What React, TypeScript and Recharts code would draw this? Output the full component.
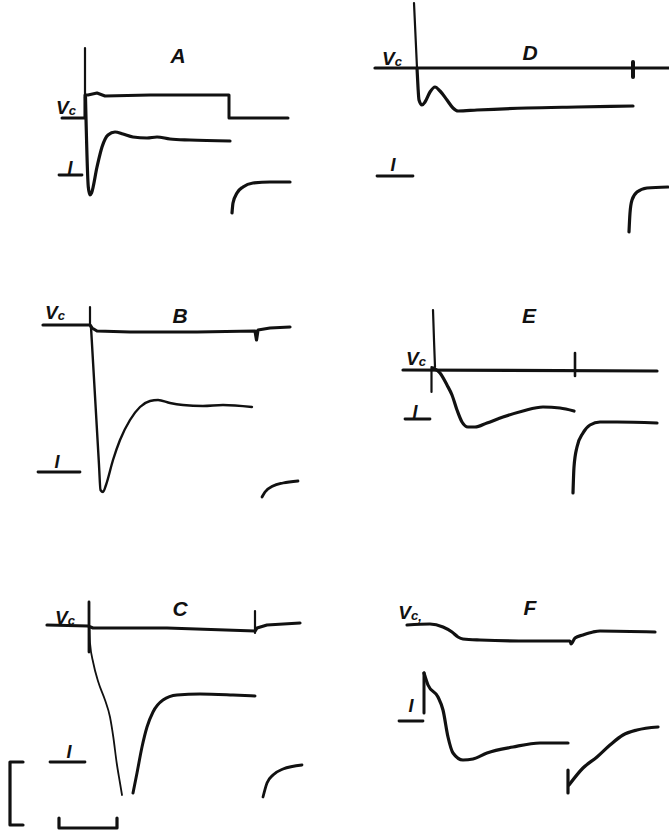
import { Line, LineChart, ReferenceDot, XAxis, YAxis } from "recharts";

type Pt = { t: number; v: number };
const p = (t: number, v: number): Pt => ({ t, v });

// 10 px per unit on both axes (t in ms from step onset, v in trace units)
const PX = 10;
const INK = "#111";
const FONT = '"Liberation Sans", Arial, sans-serif';

// ---- panel A
const aArtifact = [p(0, 7.0), p(0, 0)];
const aVc = [p(-2.3, 0), p(0, 0), p(0, 2.3), p(0.3, 2.3), p(1.2, 2.5), p(2.0, 2.2), p(6.5, 2.3), p(14.4, 2.3), p(14.4, 0), p(20.3, 0)];
const aI = [p(0.05, 2.1), p(0.33, -6.9), p(0.5, -7.7), p(0.65, -7.5), p(1.2, -4.9), p(1.7, -2.9), p(2.3, -1.7), p(3.0, -1.4), p(3.8, -1.6), p(4.8, -1.9), p(6.2, -2.0), p(7.2, -1.9), p(8.5, -2.1), p(10.5, -2.2), p(14.5, -2.3)];
const aTail = [p(14.7, -9.5), p(14.8, -8.5), p(15.2, -7.5), p(15.8, -6.9), p(16.8, -6.5), p(18.5, -6.4), p(20.5, -6.4)];
const aZero = [p(-2.6, -5.7), p(-0.3, -5.7)];

// ---- panel B
const bArtifact = [p(0, 1.8), p(0, 0)];
const bVc = [p(-4.7, 0), p(0, 0), p(0.2, -0.3), p(0.7, -0.6), p(4.0, -0.7), p(10.7, -0.7), p(16.5, -0.6), p(16.65, -1.5), p(16.8, -0.5), p(18.0, -0.3), p(20.0, -0.2)];
const bI = [p(0.1, -0.2), p(0.9, -14.0), p(1.05, -16.5), p(1.3, -16.7), p(1.6, -16.0), p(2.3, -13.5), p(3.0, -11.5), p(4.0, -9.5), p(5.0, -8.2), p(6.0, -7.6), p(6.8, -7.5), p(8.0, -7.8), p(9.3, -8.0), p(11.3, -8.1), p(13.3, -8.0), p(16.2, -8.2)];
const bTail = [p(17.2, -17.2), p(17.5, -16.7), p(18.3, -16.1), p(19.3, -15.8), p(20.8, -15.6)];
const bZero = [p(-5.2, -14.7), p(-1.0, -14.7)];

// ---- panel C
const cArtifact = [p(-0.1, 2.3), p(-0.1, -2.7)];
const cVc = [p(-4.3, 0), p(-0.2, -0.1), p(0.3, -0.3), p(7.7, -0.3), p(16.5, -0.6), p(16.7, -0.3), p(17.7, 0), p(21.0, 0.2)];
const cTick = [p(16.5, 1.4), p(16.5, -0.8)];
const cIDown = [p(-0.05, -0.3), p(0.0, -1.8), p(0.33, -3.8), p(0.83, -5.7), p(1.5, -7.5), p(2.0, -9.2), p(2.33, -11.2), p(2.67, -13.8), p(3.0, -15.8), p(3.2, -17.0)];
const cIUp = [p(4.3, -16.8), p(4.7, -14.8), p(5.2, -12.2), p(5.7, -10.2), p(6.3, -8.7), p(7.3, -7.5), p(8.7, -7.0), p(11.0, -6.9), p(14.3, -7.0), p(16.5, -7.1)];
const cTail = [p(17.3, -17.2), p(17.7, -15.8), p(18.3, -15.0), p(19.3, -14.4), p(21.2, -14.0)];
const cZero = [p(-4.0, -13.7), p(-0.5, -13.7)];
const cBarI = [p(-6.7, -13.7), p(-8.0, -13.7), p(-8.0, -20.0), p(-6.7, -20.0)];
const cBarT = [p(-3.1, -19.3), p(-3.1, -20.3), p(2.7, -20.3), p(2.7, -19.3)];

// ---- panel D
const dArtifact = [p(-0.1, 6.5), p(0.2, 0)];
const dVc = [p(-4.0, 0), p(25.4, 0)];
const dTick = [p(21.8, 0.6), p(21.8, -0.9)];
const dI = [p(0.2, 0), p(0.3, -1.9), p(0.4, -3.2), p(0.7, -3.7), p(1.0, -3.4), p(1.5, -2.4), p(2.0, -1.9), p(2.5, -2.3), p(3.2, -3.2), p(3.8, -4.0), p(4.3, -4.3), p(6.2, -4.2), p(11.2, -4.0), p(16.2, -3.9), p(21.8, -3.8)];
const dTail = [p(21.4, -16.4), p(21.5, -14.5), p(21.7, -13.2), p(22.2, -12.4), p(23.2, -12.0), p(25.3, -11.9)];
const dZero = [p(-3.8, -10.8), p(-0.2, -10.8)];

// ---- panel E
const eArtifact = [p(0.0, 6.0), p(0.1, 3.0), p(0.2, 0.3)];
const eArtifact2 = [p(-0.15, 0.3), p(-0.15, -2.2)];
const eVc = [p(-3.0, 0), p(22.4, -0.1)];
const eTick = [p(14.2, 1.7), p(14.2, -0.6)];
const eI = [p(0.0, 0.2), p(0.7, -0.3), p(1.4, -1.5), p(1.9, -2.5), p(2.4, -4.0), p(2.9, -5.2), p(3.5, -5.7), p(4.2, -5.7), p(5.4, -5.3), p(7.0, -4.7), p(9.0, -4.1), p(11.0, -3.7), p(12.7, -3.8), p(14.1, -4.1)];
const eTail = [p(14.0, -12.3), p(14.1, -9.7), p(14.4, -7.7), p(15.0, -6.3), p(15.7, -5.5), p(16.7, -5.2), p(18.4, -5.2), p(22.4, -5.3)];
const eZero = [p(-2.8, -4.9), p(-0.3, -4.9)];

// ---- panel F
const fVc = [p(-1.8, 0), p(0.5, 0.1), p(1.8, -0.2), p(2.7, -0.7), p(3.3, -1.2), p(3.8, -1.4), p(5.5, -1.5), p(10.5, -1.6), p(14.5, -1.6), p(14.6, -1.9), p(15.0, -1.3), p(15.8, -1.0), p(16.8, -0.7), p(17.5, -0.6), p(23.0, -0.7)];
const fSpike = [p(-0.1, -8.8), p(-0.1, -4.8)];
const fI = [p(-0.1, -4.8), p(0.3, -6.0), p(1.3, -7.2), p(1.8, -8.5), p(2.3, -11.2), p(2.8, -12.8), p(3.8, -13.5), p(4.8, -13.4), p(6.2, -12.8), p(8.8, -12.2), p(11.5, -11.8), p(14.3, -11.8)];
const fTailJump = [p(14.3, -14.5), p(14.3, -16.8)];
const fTail = [p(14.4, -16.0), p(15.8, -14.3), p(17.2, -13.2), p(18.5, -12.0), p(19.8, -11.0), p(21.2, -10.5), p(23.3, -10.2)];
const fZero = [p(-2.6, -9.6), p(-0.2, -9.6)];

type Curve = "linear" | "monotone";
interface Trace { data: Pt[]; w: number; curve?: Curve }
interface Tag { at: Pt; text: string; kind: "title" | "vc" | "i"; comma?: boolean }
interface PanelSpec {
  id: string;
  ox: number; // onset position on the page
  oy: number; // holding level position on the page
  x: [number, number];
  y: [number, number];
  traces: Trace[];
  tags: Tag[];
}

const panels: PanelSpec[] = [
  {
    id: "A", ox: 85, oy: 118, x: [-3.5, 21.5], y: [-10.5, 7.5],
    traces: [
      { data: aArtifact, w: 2.2 }, { data: aVc, w: 3 }, { data: aI, w: 3.2, curve: "monotone" },
      { data: aTail, w: 3.2, curve: "monotone" }, { data: aZero, w: 2.8 },
    ],
    tags: [{ at: p(9.3, 6.3), text: "A", kind: "title" }, { at: p(-1.9, 1.1), text: "V", kind: "vc" }, { at: p(-1.5, -5.0), text: "I", kind: "i" }],
  },
  {
    id: "B", ox: 90, oy: 325, x: [-5.5, 21.5], y: [-18, 2.5],
    traces: [
      { data: bArtifact, w: 2.2 }, { data: bVc, w: 3.2 }, { data: bI, w: 2.4, curve: "monotone" },
      { data: bTail, w: 2.8, curve: "monotone" }, { data: bZero, w: 2.8 },
    ],
    tags: [{ at: p(9.0, 1.0), text: "B", kind: "title" }, { at: p(-3.5, 1.3), text: "V", kind: "vc" }, { at: p(-3.3, -13.7), text: "I", kind: "i" }],
  },
  {
    id: "C", ox: 90, oy: 625, x: [-8.5, 21.5], y: [-20.8, 2.8],
    traces: [
      { data: cArtifact, w: 2.8 }, { data: cVc, w: 3.2 }, { data: cTick, w: 2.2 },
      { data: cIDown, w: 1.8, curve: "monotone" }, { data: cIUp, w: 3, curve: "monotone" },
      { data: cTail, w: 2.8, curve: "monotone" }, { data: cZero, w: 2.8 },
      { data: cBarI, w: 3.2 }, { data: cBarT, w: 3.2 },
    ],
    tags: [{ at: p(9.0, 1.7), text: "C", kind: "title" }, { at: p(-2.5, 0.8), text: "V", kind: "vc" }, { at: p(-2.1, -12.7), text: "I", kind: "i" }],
  },
  {
    id: "D", ox: 415, oy: 68, x: [-4.5, 25.4], y: [-17, 6.7],
    traces: [
      { data: dArtifact, w: 2.2 }, { data: dVc, w: 3.2 }, { data: dTick, w: 4 },
      { data: dI, w: 3.2, curve: "monotone" }, { data: dTail, w: 3.2, curve: "monotone" }, { data: dZero, w: 2.8 },
    ],
    tags: [{ at: p(11.5, 1.6), text: "D", kind: "title" }, { at: p(-2.3, 1.0), text: "V", kind: "vc" }, { at: p(-2.2, -9.7), text: "I", kind: "i" }],
  },
  {
    id: "E", ox: 433, oy: 370, x: [-3.5, 23], y: [-13, 6.6],
    traces: [
      { data: eArtifact, w: 2.2, curve: "monotone" }, { data: eArtifact2, w: 2.2 }, { data: eVc, w: 3.2 },
      { data: eTick, w: 2.6 }, { data: eI, w: 3.2, curve: "monotone" }, { data: eTail, w: 3.2, curve: "monotone" },
      { data: eZero, w: 2.8 },
    ],
    tags: [{ at: p(9.6, 5.5), text: "E", kind: "title" }, { at: p(-1.7, 1.2), text: "V", kind: "vc" }, { at: p(-1.8, -4.2), text: "I", kind: "i" }],
  },
  {
    id: "F", ox: 425, oy: 625, x: [-3.0, 23.8], y: [-17.5, 3.0],
    traces: [
      { data: fVc, w: 3.2, curve: "monotone" }, { data: fSpike, w: 3 }, { data: fI, w: 3.2, curve: "monotone" },
      { data: fTailJump, w: 3.2 }, { data: fTail, w: 3.2, curve: "monotone" }, { data: fZero, w: 2.8 },
    ],
    tags: [{ at: p(10.5, 1.8), text: "F", kind: "title" }, { at: p(-1.5, 1.3), text: "V", kind: "vc", comma: true }, { at: p(-1.4, -8.1), text: "I", kind: "i" }],
  },
];

function TagText({ viewBox, tag }: { viewBox?: { x: number; y: number; width?: number; height?: number }; tag: Tag }) {
  if (!viewBox) return null;
  const cx = viewBox.x + (viewBox.width || 0) / 2;
  const cy = viewBox.y + (viewBox.height || 0) / 2;
  const common = {
    x: cx,
    y: cy,
    textAnchor: "middle" as const,
    dominantBaseline: "central" as const,
    fill: INK,
    fontFamily: FONT,
    fontWeight: 700,
    fontStyle: "italic",
  };
  if (tag.kind === "vc") {
    return (
      <text {...common} fontSize={19}>
        <tspan>V</tspan>
        <tspan fontSize={13} dy={3}>c</tspan>
        {tag.comma ? <tspan fontSize={13} dy={1}>,</tspan> : null}
      </text>
    );
  }
  return (
    <text {...common} fontSize={tag.kind === "title" ? 21 : 18}>
      {tag.text}
    </text>
  );
}

function Panel({ spec }: { spec: PanelSpec }) {
  const width = (spec.x[1] - spec.x[0]) * PX;
  const height = (spec.y[1] - spec.y[0]) * PX;
  const left = spec.ox + spec.x[0] * PX;
  const top = spec.oy - spec.y[1] * PX;
  return (
    <div style={{ position: "absolute", left, top, width, height }}>
      <LineChart width={width} height={height} margin={{ top: 0, right: 0, bottom: 0, left: 0 }}>
        <XAxis type="number" dataKey="t" domain={spec.x} hide allowDataOverflow />
        <YAxis type="number" dataKey="v" domain={spec.y} hide allowDataOverflow />
        {spec.traces.map((tr, i) => (
          <Line
            key={`${spec.id}-${i}`}
            data={tr.data}
            dataKey="v"
            type={tr.curve ?? "linear"}
            stroke={INK}
            strokeWidth={tr.w}
            strokeLinecap="round"
            strokeLinejoin="round"
            dot={false}
            activeDot={false}
            isAnimationActive={false}
          />
        ))}
        {spec.tags.map((tag, i) => (
          <ReferenceDot
            key={`${spec.id}-tag-${i}`}
            x={tag.at.t}
            y={tag.at.v}
            r={0}
            fill="none"
            stroke="none"
            label={{ content: (props: any) => <TagText viewBox={props.viewBox} tag={tag} /> }}
          />
        ))}
      </LineChart>
    </div>
  );
}

export default function App() {
  return (
    <div
      style={{
        position: "absolute",
        left: 0,
        top: 0,
        width: 669,
        height: 834,
        overflow: "hidden",
        background: "#fff",
      }}
    >
      {panels.map((s) => (
        <Panel key={s.id} spec={s} />
      ))}
    </div>
  );
}
